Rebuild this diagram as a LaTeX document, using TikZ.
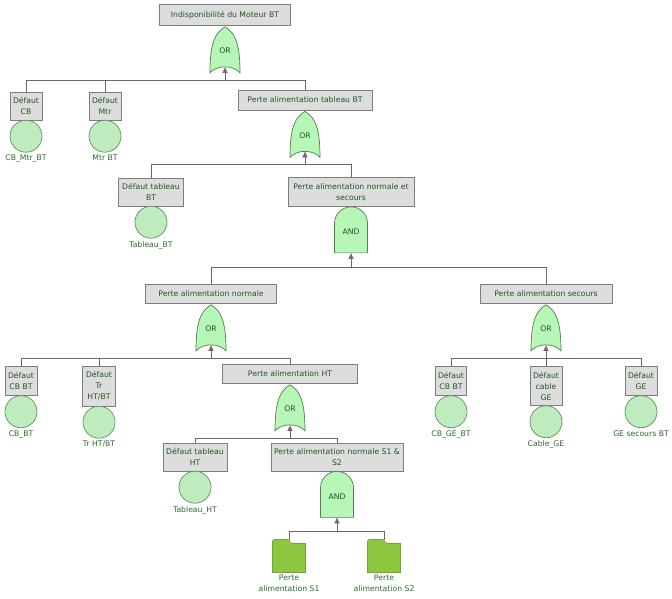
\documentclass[tikz,border=0pt]{standalone}
\usepackage{fontspec}
\setmainfont{DejaVu Sans}
\usetikzlibrary{positioning,arrows.meta}

\definecolor{evtxt}{RGB}{35,85,35}
\definecolor{lbltxt}{RGB}{45,105,45}
\definecolor{boxfill}{RGB}{221,221,221}
\definecolor{boxline}{RGB}{125,125,125}
\definecolor{gatefill}{RGB}{182,246,182}
\definecolor{gateline}{RGB}{85,125,85}
\definecolor{basicfill}{RGB}{190,236,190}
\definecolor{basicline}{RGB}{95,145,95}
\definecolor{folderfill}{RGB}{141,198,63}
\definecolor{folderline}{RGB}{115,165,50}
\definecolor{linkcol}{RGB}{105,105,105}

\newcommand\ftfont{\fontsize{7.7}{11}\selectfont}

\tikzset{
  event/.style={draw=boxline, fill=boxfill, text=evtxt, align=center,
    inner sep=1pt, font=\ftfont, line width=0.7pt},
  basic/.style={circle, draw=basicline, fill=basicfill, minimum size=32pt,
    inner sep=0pt, line width=0.7pt},
  evlabel/.style={text=lbltxt, align=center, inner sep=1pt, font=\ftfont},
  gatebody/.style={draw=gateline, fill=gatefill, line width=0.7pt},
  gatelabel/.style={text=evtxt, inner sep=0pt, font=\ftfont},
  link/.style={draw=linkcol, line width=0.65pt},
  orgate/.pic={
    \path[gatebody] (0,1) .. controls (10,7) and (15,17) .. (15,47)
      .. controls (8,39) and (-8,39) .. (-15,47)
      .. controls (-15,17) and (-10,7) .. (0,1) -- cycle;
    \node[gatelabel] (-lbl) at (0,25) {OR};
    \coordinate (-in) at (0,41);
    \coordinate (-bus) at (0,54);
  },
  andgate/.pic={
    \path[gatebody] (-16.5,46) -- (-16.5,16.5)
      arc[start angle=180, end angle=360, radius=16.5] -- (16.5,46) -- cycle;
    \node[gatelabel] (-lbl) at (0,25) {AND};
    \coordinate (-in) at (0,46);
    \coordinate (-bus) at (0,60);
  },
  folder/.pic={
    \path[draw=folderline, fill=folderfill, line width=0.6pt]
      (-16.5,16.5) -- (-16.5,-14) [rounded corners=2pt] -- (-16.5,-16.5)
      [sharp corners] -- (-1,-16.5) -- (3,-12.5) -- (16.5,-12.5) -- (16.5,16.5) -- cycle;
    \coordinate (-top) at (0,-16.5);
    \coordinate (-bot) at (0,16.5);
  }
}

\begin{document}
\begin{tikzpicture}[x=1pt, y=-1pt, >={Latex[length=6pt,width=5.5pt]}]
  \useasboundingbox (0,0) rectangle (672,598);

  % Top event
  \node[event, minimum width=131pt, minimum height=21pt] (top) at (225,15) {Indisponibilit\'e du Moteur BT};
  \pic (g1) at (top.south) {orgate};

  \node[event, minimum width=32pt, minimum height=28pt] (e1) at (26,106) {D\'efaut\\CB};
  \node[basic, below=-0.5pt of e1] (e1c) {};
  \node[evlabel, below=1.5pt of e1c] (e1l) {CB\_Mtr\_BT};

  \node[event, minimum width=32pt, minimum height=28pt] (e2) at (105,106) {D\'efaut\\Mtr};
  \node[basic, below=-0.5pt of e2] (e2c) {};
  \node[evlabel, below=1.5pt of e2c] (e2l) {Mtr BT};

  \node[event, minimum width=134pt, minimum height=20pt] (p1) at (305,100) {Perte alimentation tableau BT};
  \pic (g2) at (p1.south) {orgate};

  \node[event, minimum width=65pt, minimum height=28pt] (e3) at (151,192) {D\'efaut tableau\\BT};
  \node[basic, below=-0.5pt of e3] (e3c) {};
  \node[evlabel, below=1.5pt of e3c] (e3l) {Tableau\_BT};

  \node[event, minimum width=126pt, minimum height=29pt] (p2) at (351,192) {Perte alimentation normale et\\secours};
  \pic (a1) at (p2.south) {andgate};

  \node[event, minimum width=131pt, minimum height=19pt] (p3) at (211,294) {Perte alimentation normale};
  \pic (g3) at (p3.south) {orgate};

  \node[event, minimum width=132pt, minimum height=19pt] (p4) at (546,294) {Perte alimentation secours};
  \pic (g4) at (p4.south) {orgate};

  % Normal supply branch
  \node[event, minimum width=32pt, minimum height=29pt] (e4) at (21,381) {D\'efaut\\CB BT};
  \node[basic, below=-0.5pt of e4] (e4c) {};
  \node[evlabel, below=1.5pt of e4c] (e4l) {CB\_BT};

  \node[event, minimum width=33pt, minimum height=40pt] (e5) at (99,386) {D\'efaut\\Tr\\HT/BT};
  \node[basic, below=-0.5pt of e5] (e5c) {};
  \node[evlabel, below=1.5pt of e5c] (e5l) {Tr HT/BT};

  \node[event, minimum width=135pt, minimum height=19pt] (p5) at (290,374) {Perte alimentation HT};
  \pic (g5) at (p5.south) {orgate};

  \node[event, minimum width=64pt, minimum height=28pt] (e6) at (195,457) {D\'efaut tableau\\HT};
  \node[basic, below=-0.5pt of e6] (e6c) {};
  \node[evlabel, below=1.5pt of e6c] (e6l) {Tableau\_HT};

  \node[event, minimum width=132pt, minimum height=28pt] (p6) at (337,457) {Perte alimentation normale S1 \&\\S2};
  \pic (a2) at (p6.south) {andgate};

  \pic (h1) at (289,556) {folder};
  \node[evlabel, below=1pt of h1-bot] (h1l) {Perte\\alimentation S1};
  \pic (h2) at (384,556) {folder};
  \node[evlabel, below=1pt of h2-bot] (h2l) {Perte\\alimentation S2};

  % Backup supply branch
  \node[event, minimum width=31pt, minimum height=29pt] (e7) at (451,381) {D\'efaut\\CB BT};
  \node[basic, below=-0.5pt of e7] (e7c) {};
  \node[evlabel, below=1.5pt of e7c] (e7l) {CB\_GE\_BT};

  \node[event, minimum width=32pt, minimum height=39pt] (e8) at (546,386) {D\'efaut\\cable\\GE};
  \node[basic, below=-0.5pt of e8] (e8c) {};
  \node[evlabel, below=1.5pt of e8c] (e8l) {Cable\_GE};

  \node[event, minimum width=32pt, minimum height=29pt] (e9) at (641,381) {D\'efaut\\GE};
  \node[basic, below=-0.5pt of e9] (e9c) {};
  \node[evlabel, below=1.5pt of e9c] (e9l) {GE secours BT};

  % Connections
  \foreach \c in {e1,e2,p1} \draw[link] (\c.north) |- (g1-bus);
  \foreach \c in {e3,p2} \draw[link] (\c.north) |- (g2-bus);
  \foreach \c in {p3,p4} \draw[link] (\c.north) |- (a1-bus);
  \foreach \c in {e4,e5,p5} \draw[link] (\c.north) |- (g3-bus);
  \foreach \c in {e7,e8,e9} \draw[link] (\c.north) |- (g4-bus);
  \foreach \c in {e6,p6} \draw[link] (\c.north) |- (g5-bus);
  \foreach \c in {h1,h2} \draw[link] (\c-top) |- (a2-bus);
  \foreach \g in {g1,g2,a1,g3,g4,g5,a2} \draw[link,->] (\g-bus) -- (\g-in);
\end{tikzpicture}
\end{document}
